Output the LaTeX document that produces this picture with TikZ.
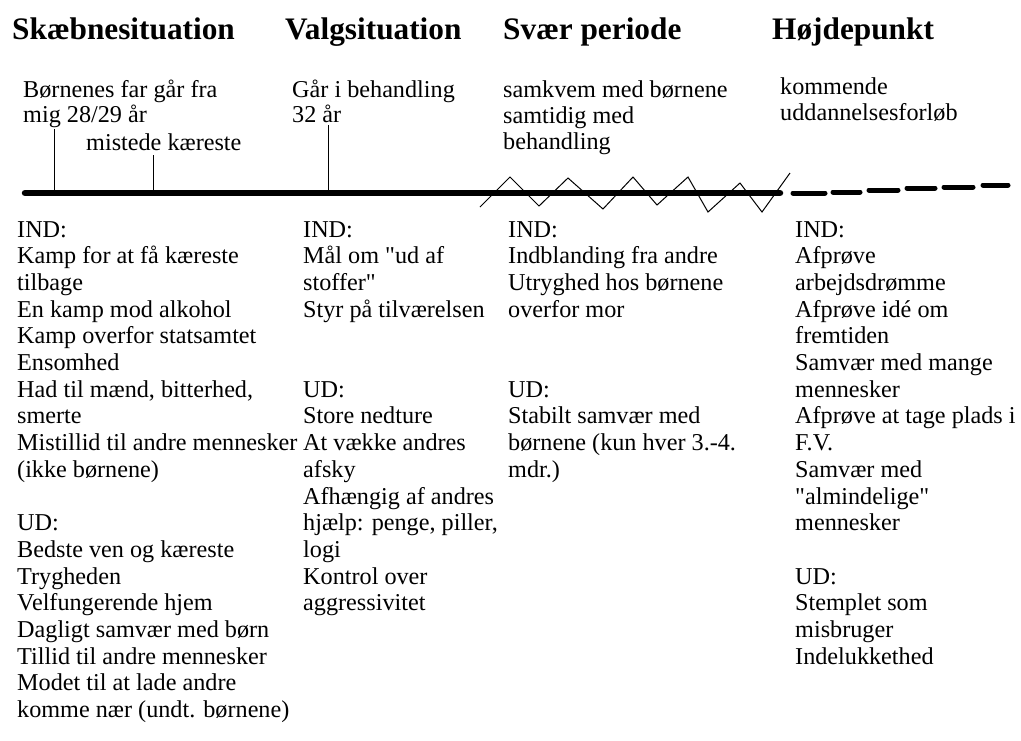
\documentclass[tikz,border=0pt]{standalone}
\usepackage{fontspec}
\setmainfont{Liberation Serif}[Ligatures=TeXOff]
\begin{document}
\begin{tikzpicture}[x=1pt,y=-1pt,
  head/.style={anchor=base west,inner sep=0pt,font=\fontsize{31.3}{36}\selectfont\bfseries},
  txt/.style={anchor=base west,inner sep=0pt,font=\fontsize{24.2}{26.7}\selectfont},
  tick/.style={line width=1pt},
  axis/.style={line width=6.5pt,line cap=round},
  zig/.style={line width=1pt,line join=miter},
  dashseg/.style={line width=5pt,line cap=round}]
\useasboundingbox (0,0) rectangle (1021,740);
\fill[white] (0,0) rectangle (1021,740);
% headings
\node[head] (h1) at (12,39) {Skæbnesituation};
\node[head] (h2) at (285,39) {Valgsituation};
\node[head] (h3) at (503,39) {Svær periode};
\node[head] (h4) at (772,39) {Højdepunkt};
% upper texts
\node[txt] (u1a) at (23,97) {Børnenes far går fra};
\node[txt] (u1b) at (23,122) {mig 28/29 år};
\node[txt] (u1c) at (86,150) {mistede kæreste};
\node[txt] (u2a) at (292,97) {Går i behandling};
\node[txt] (u2b) at (292,122) {32 år};
\node[txt] (u3a) at (503,97) {samkvem med børnene};
\node[txt] (u3b) at (503,123) {samtidig med};
\node[txt] (u3c) at (503,149) {behandling};
\node[txt] (u4a) at (780,94) {kommende};
\node[txt] (u4b) at (780,120) {uddannelsesforløb};
% timeline
\coordinate (L) at (25,193);
\coordinate (R) at (780,193);
\draw[axis] (L) -- (R);
\coordinate (t1a) at (54,129); \coordinate (t1b) at (54,193);
\coordinate (t2a) at (153,155); \coordinate (t2b) at (153,193);
\coordinate (t3a) at (328,125); \coordinate (t3b) at (328,193);
\draw[tick] (t1a) -- (t1b);
\draw[tick] (t2a) -- (t2b);
\draw[tick] (t3a) -- (t3b);
% zigzag
\draw[zig] (480,207) -- (510,177) -- (539,206) -- (568,178) -- (603,209) -- (633,177)
  -- (657,205) -- (688,177) -- (708,212) -- (740,183) -- (762,212) -- (790,173);
% dashed continuation
\draw[dashseg] (793,193) -- (825,193);
\draw[dashseg] (833,192) -- (860,192);
\draw[dashseg] (869,190) -- (898,190);
\draw[dashseg] (907,188) -- (935,188);
\draw[dashseg] (944,187) -- (973,187);
\draw[dashseg] (983,185) -- (1008,185);
% columns
\foreach \t [count=\i] in {IND:, Kamp for at få kæreste, tilbage, En kamp mod alkohol,
  Kamp overfor statsamtet, Ensomhed, {Had til mænd, bitterhed,}, smerte,
  Mistillid til andre mennesker, (ikke børnene), {}, UD:, Bedste ven og kæreste,
  Trygheden, Velfungerende hjem, Dagligt samvær med børn, Tillid til andre mennesker,
  Modet til at lade andre, komme nær (undt. børnene)}
  \node[txt,name=a\i] at (17,{237+(\i-1)*26.7}) {\t};
\foreach \t [count=\i] in {IND:, Mål om "ud af, stoffer", Styr på tilværelsen, {}, {},
  UD:, Store nedture, At vække andres, afsky, Afhængig af andres,
  {hjælp: penge, piller,}, logi, Kontrol over, aggressivitet}
  \node[txt,name=b\i] at (303,{237+(\i-1)*26.7}) {\t};
\foreach \t [count=\i] in {IND:, Indblanding fra andre, Utryghed hos børnene, overfor mor,
  {}, {}, UD:, Stabilt samvær med, børnene (kun hver 3.-4., mdr.)}
  \node[txt,name=c\i] at (508,{237+(\i-1)*26.7}) {\t};
\foreach \t [count=\i] in {IND:, Afprøve, arbejdsdrømme, Afprøve idé om, fremtiden,
  Samvær med mange, mennesker, Afprøve at tage plads i, F.V., Samvær med,
  "almindelige", mennesker, {}, UD:, Stemplet som, misbruger, Indelukkethed}
  \node[txt,name=d\i] at (795,{237+(\i-1)*26.7}) {\t};
\end{tikzpicture}
\end{document}
